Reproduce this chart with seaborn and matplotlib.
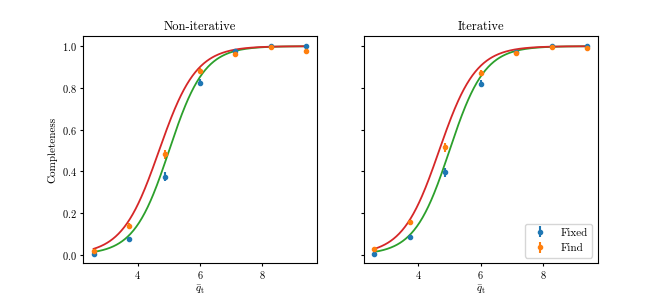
import numpy as np
import pandas as pd
import seaborn as sns
import matplotlib
matplotlib.use('Agg')
import matplotlib.pyplot as plt

plt.rcParams['font.family'] = 'serif'
plt.rcParams['font.serif'] = ['cmr10', 'DejaVu Serif']
plt.rcParams['mathtext.fontset'] = 'cm'
plt.rcParams['axes.formatter.use_mathtext'] = True

# --- Binned data ---
q_bins = [2.59, 3.73, 4.87, 6.00, 7.14, 8.28, 9.41]

fixed_noniter = [0.005, 0.077, 0.375, 0.825, 0.975, 1.000, 1.000]
fixed_noniter_err = [0.004, 0.010, 0.022, 0.018, 0.007, 0.002, 0.002]
find_noniter = [0.020, 0.140, 0.482, 0.882, 0.962, 0.994, 0.978]
find_noniter_err = [0.006, 0.012, 0.022, 0.015, 0.009, 0.004, 0.006]

fixed_iter = [0.005, 0.084, 0.396, 0.820, 0.970, 1.000, 1.000]
fixed_iter_err = [0.004, 0.010, 0.022, 0.018, 0.008, 0.002, 0.002]
find_iter = [0.027, 0.158, 0.515, 0.872, 0.968, 0.994, 0.990]
find_iter_err = [0.007, 0.013, 0.022, 0.016, 0.008, 0.004, 0.005]

# --- Fitted completeness curves (logistic: midpoint, steepness) ---
fit_fixed_noniter = (5.01, 1.77)
fit_find_noniter = (4.69, 1.68)
fit_fixed_iter = (5.00, 1.77)
fit_find_iter = (4.67, 1.70)


def completeness(x, x0, k):
    return 1.0 / (1.0 + np.exp(-k * (x - x0)))


panels = [
    ('Non-iterative', fixed_noniter, fixed_noniter_err, find_noniter, find_noniter_err,
     fit_fixed_noniter, fit_find_noniter),
    ('Iterative', fixed_iter, fixed_iter_err, find_iter, find_iter_err,
     fit_fixed_iter, fit_find_iter),
]

fig, axes = plt.subplots(1, 2, figsize=(6.64, 2.98), dpi=100, sharey=True)

xs = np.linspace(min(q_bins), max(q_bins), 300)

for ax, (title, fx, fx_err, fd, fd_err, fit_fx, fit_fd) in zip(axes, panels):
    ax.errorbar(q_bins, fx, yerr=fx_err, fmt='o', ms=3, color='C0', label='Fixed')
    ax.errorbar(q_bins, fd, yerr=fd_err, fmt='o', ms=3, color='C1', label='Find')
    curves = pd.DataFrame({
        'q': np.concatenate([xs, xs]),
        'c': np.concatenate([completeness(xs, *fit_fx), completeness(xs, *fit_fd)]),
        'fit': ['fixed'] * len(xs) + ['find'] * len(xs),
    })
    sns.lineplot(data=curves, x='q', y='c', hue='fit', palette={'fixed': 'C2', 'find': 'C3'},
                 legend=False, ax=ax, lw=1.3)
    ax.set_title(title, fontsize=9, pad=4)
    ax.set_xlabel(r'$\bar{q}_{\rm t}$', fontsize=8, labelpad=1)
    ax.set_ylabel('')
    ax.tick_params(labelsize=7.5, length=2.5, pad=2)

axes[0].set_ylim(-0.04, 1.05)
axes[0].set_ylabel('Completeness', fontsize=8, labelpad=3)
axes[1].legend(loc='lower right', fontsize=8)

plt.subplots_adjust(left=0.125, right=0.9, top=0.88, bottom=0.117, wspace=0.2)
plt.savefig('out.png', dpi=100)
